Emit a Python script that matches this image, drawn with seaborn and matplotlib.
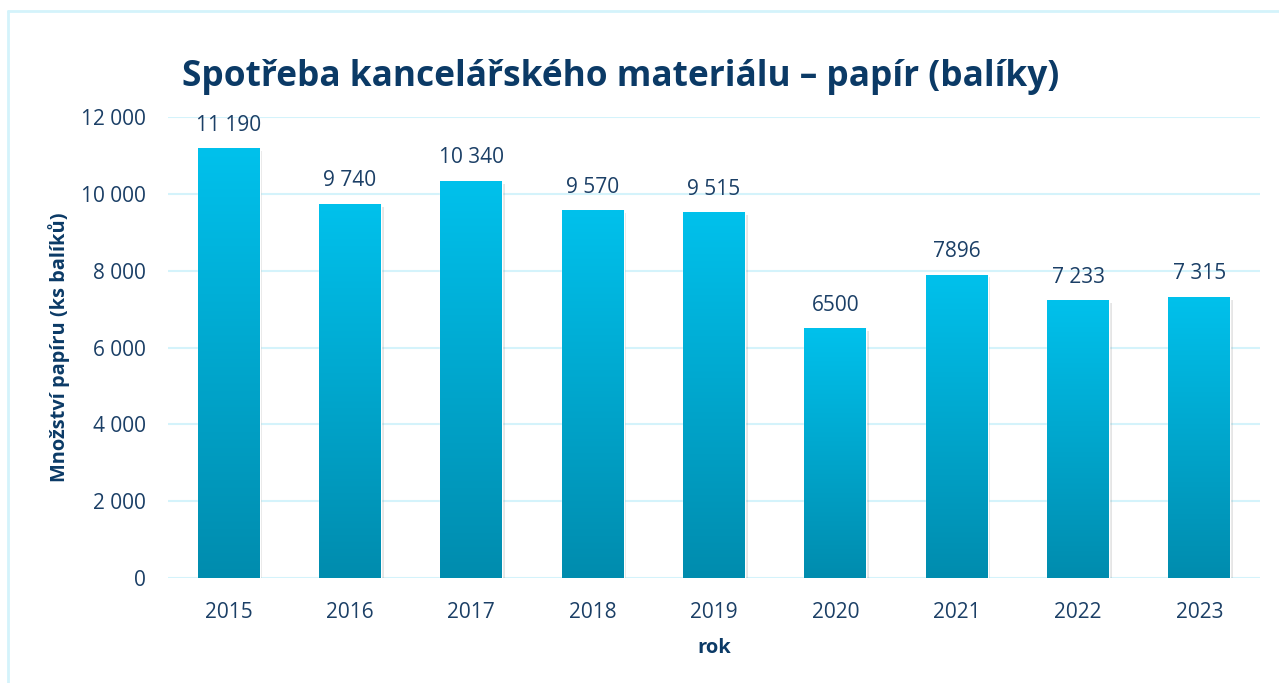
import matplotlib
matplotlib.use("Agg")
import matplotlib.pyplot as plt
import matplotlib.patheffects as pe
from matplotlib.colors import LinearSegmentedColormap
from matplotlib.ticker import FuncFormatter
import numpy as np
import pandas as pd
import seaborn as sns

# data
years = ["2015", "2016", "2017", "2018", "2019", "2020", "2021", "2022", "2023"]
packs = [11190, 9740, 10340, 9570, 9515, 6500, 7896, 7233, 7315]
value_labels = ["11 190", "9 740", "10 340", "9 570", "9 515", "6500", "7896", "7 233", "7 315"]
y_ticks = [0, 2000, 4000, 6000, 8000, 10000, 12000]

TEXT = "#1B3F66"
TITLE = "#0B3A66"
GRID = "#D4F3FB"
BAR_TOP = "#00C1EC"
BAR_BOTTOM = "#008CAE"

sns.set_theme(style="white")
plt.rcParams["font.family"] = ["Open Sans", "DejaVu Sans"]

df = pd.DataFrame({"rok": years, "baliky": packs})

fig = plt.figure(figsize=(12.79, 6.83), dpi=100)
ax = fig.add_axes([168 / 1279, 1 - 578 / 683, (1260 - 168) / 1279, (578 - 117) / 683])

sns.barplot(data=df, x="rok", y="baliky", color=BAR_BOTTOM, width=0.51, ax=ax,
            saturation=1, zorder=3)

# vertical gradient inside each bar
cmap = LinearSegmentedColormap.from_list("bar", [BAR_BOTTOM, BAR_TOP])
grad = np.linspace(0, 1, 256).reshape(-1, 1)
for p in ax.patches:
    x, w, h = p.get_x(), p.get_width(), p.get_height()
    p.set_path_effects([pe.SimplePatchShadow(offset=(2, -2), alpha=0.15, shadow_rgbFace="#555555"),
                        pe.Normal()])
    im = ax.imshow(grad, extent=[x, x + w, 0, h], origin="lower", aspect="auto",
                   cmap=cmap, zorder=4)
    im.set_clip_path(p)

for i, (v, lab) in enumerate(zip(packs, value_labels)):
    ax.annotate(lab, (i, v), xytext=(0, 9), textcoords="offset points",
                ha="center", va="bottom", fontsize=15, color=TEXT)

ax.set_xlim(-0.5, len(years) - 0.5)
ax.set_ylim(0, 12000)
ax.set_yticks(y_ticks)
ax.yaxis.set_major_formatter(FuncFormatter(lambda v, _: f"{int(v):,}".replace(",", " ")))
ax.grid(axis="y", color=GRID, linewidth=1.5, zorder=0)
ax.set_axisbelow(True)
for s in ax.spines.values():
    s.set_visible(False)
ax.tick_params(axis="both", length=0, labelsize=15, labelcolor=TEXT)
ax.tick_params(axis="x", pad=17)
ax.tick_params(axis="y", pad=16)

ax.set_xlabel("rok", fontsize=14.5, fontweight="bold", color=TITLE)
ax.set_ylabel("Množství papíru (ks balíků)", fontsize=14.4, fontweight="bold", color=TITLE)
ax.xaxis.set_label_coords(0.5, -0.131)
ax.yaxis.set_label_coords(-0.09, 0.5)

fig.text(621 / 1279, 1 - 77 / 683, "Spotřeba kancelářského materiálu – papír (balíky)",
         ha="center", va="center", fontsize=25.4, fontweight="bold", color=TITLE)

# light frame around the chart
fig.add_artist(plt.Line2D([8 / 1279, 8 / 1279], [0, 1 - 11 / 683], transform=fig.transFigure,
                          color=GRID, linewidth=2))
fig.add_artist(plt.Line2D([8 / 1279, 1], [1 - 11 / 683, 1 - 11 / 683], transform=fig.transFigure,
                          color=GRID, linewidth=2))

fig.savefig("out.png", dpi=100)
